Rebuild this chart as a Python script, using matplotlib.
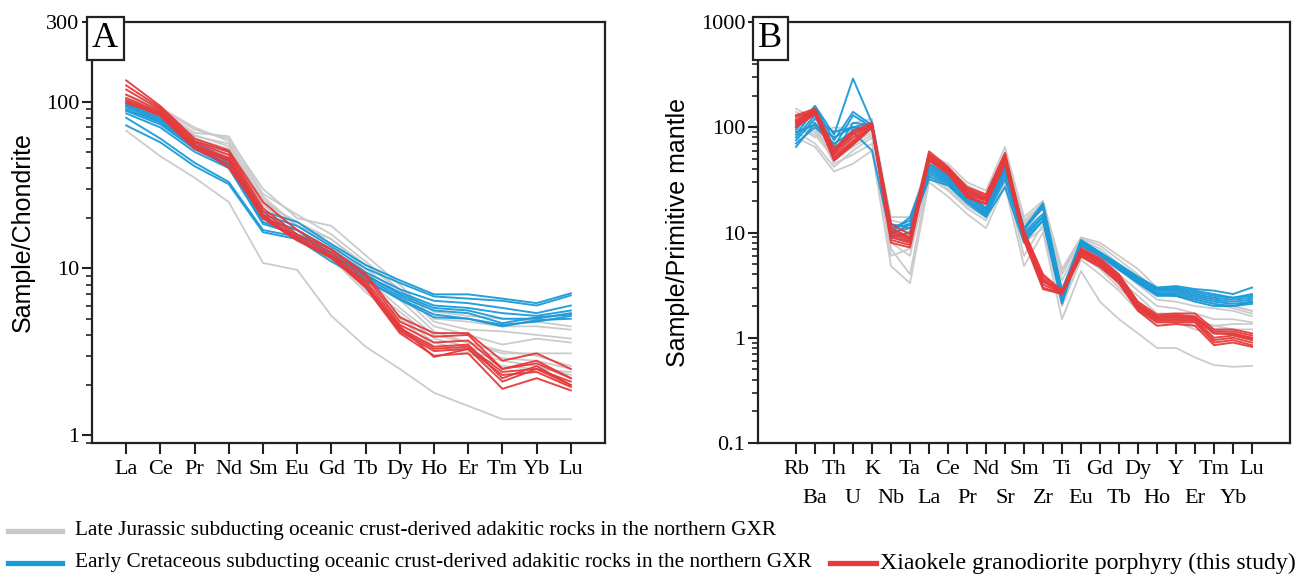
import matplotlib
matplotlib.use('Agg')
import matplotlib.pyplot as plt
import numpy as np
from matplotlib.ticker import FixedLocator, LogLocator, NullFormatter
from matplotlib.lines import Line2D

# ---- data: chondrite-normalised REE (panel A) ----
ree = ['La', 'Ce', 'Pr', 'Nd', 'Sm', 'Eu', 'Gd', 'Tb', 'Dy', 'Ho', 'Er', 'Tm', 'Yb', 'Lu']

ree_jurassic = [
    [67, 47, 35, 25, 10.8, 9.8, 5.2, 3.4, 2.5, 1.8, 1.5, 1.25, 1.25, 1.25],
    [105, 90, 68, 60, 30, 20, 18, 12, 8.0, 5.0, 4.8, 4.5, 4.5, 4.3],
    [100, 88, 65, 62, 28, 21, 16, 11, 7.5, 4.8, 4.3, 4.2, 4.0, 3.8],
    [95, 85, 62, 56, 25, 19, 15, 10, 7.0, 4.5, 4.0, 3.5, 3.8, 3.6],
    [110, 92, 70, 58, 27, 18, 14, 9.5, 6.5, 4.2, 3.6, 3.1, 3.1, 3.1],
    [98, 84, 60, 52, 24, 17, 13, 8.8, 5.8, 4.0, 3.6, 3.2, 3.0, 2.6],
    [92, 80, 58, 50, 22, 16, 12.5, 8.0, 5.5, 3.8, 3.4, 2.9, 2.8, 2.5],
    [88, 78, 55, 48, 21, 15, 12, 7.5, 5.2, 3.6, 3.2, 2.8, 2.6, 2.3],
    [102, 86, 63, 54, 26, 18, 15, 10.5, 7.5, 5.5, 5.2, 5.0, 4.8, 4.5],
    [96, 82, 60, 46, 20, 15, 11.5, 7.2, 5.0, 3.4, 3.1, 2.6, 2.5, 2.4],
]
ree_cretaceous = [
    [97, 80, 57, 45, 22, 19, 14, 10.5, 8.5, 7.0, 7.0, 6.6, 6.2, 7.1],
    [95, 78, 55, 44, 21, 18, 13.5, 10, 8.2, 6.8, 6.6, 6.4, 6.0, 6.9],
    [90, 75, 53, 42, 20, 17, 13, 9.5, 7.5, 6.4, 6.2, 5.8, 5.4, 6.0],
    [88, 73, 52, 41, 19, 16, 12.5, 9.0, 7.2, 6.0, 5.8, 5.4, 5.2, 5.6],
    [93, 76, 54, 43, 20, 17, 12, 9.2, 7.0, 5.8, 5.6, 5.0, 5.0, 5.4],
    [85, 70, 50, 40, 18.5, 16, 12, 8.8, 6.8, 5.6, 5.4, 4.7, 5.1, 5.3],
    [80, 60, 43, 33, 17, 15.5, 11.5, 8.5, 6.6, 5.3, 5.0, 4.5, 4.9, 5.0],
    [72, 57, 41, 32, 16.5, 15, 11, 8.5, 6.5, 5.1, 5.0, 4.6, 4.8, 5.2],
]
ree_xiaokele = [
    [134, 94, 60, 51, 25, 17, 13, 9.3, 5.1, 4.1, 4.1, 2.8, 3.1, 2.5],
    [125, 92, 58, 50, 23, 16, 13, 9.0, 4.8, 3.9, 4.0, 2.5, 2.8, 2.2],
    [118, 90, 57, 48, 22, 15.5, 12.5, 8.5, 4.6, 3.6, 3.7, 2.5, 2.7, 2.2],
    [110, 88, 55, 46, 21, 15, 12, 8.0, 4.4, 3.4, 3.5, 2.2, 2.6, 2.0],
    [105, 86, 54, 45, 20.5, 15, 12, 8.2, 4.3, 3.3, 3.4, 2.4, 2.5, 2.1],
    [102, 85, 53, 44, 20, 14.8, 11.8, 7.8, 4.2, 3.2, 3.3, 2.3, 2.4, 1.95],
    [100, 82, 52, 42, 20, 14.7, 11.6, 7.7, 4.1, 3.0, 3.1, 1.9, 2.2, 1.86],
    [98, 84, 55, 40, 21, 15, 11.5, 7.9, 4.5, 2.95, 3.3, 2.1, 2.5, 2.0],
]

# ---- data: primitive-mantle-normalised trace elements (panel B) ----
trace = ['Rb', 'Ba', 'Th', 'U', 'K', 'Nb', 'Ta', 'La', 'Ce', 'Pr', 'Nd', 'Sr', 'Sm',
         'Zr', 'Ti', 'Eu', 'Gd', 'Tb', 'Dy', 'Ho', 'Y', 'Er', 'Tm', 'Yb', 'Lu']

tr_jurassic = [
    [80, 65, 38, 45, 60, 4.8, 3.3, 30, 22, 15, 11, 28, 4.8, 10, 1.5, 4.3, 2.2, 1.5, 1.1, 0.8, 0.8, 0.65, 0.55, 0.53, 0.54],
    [150, 120, 90, 110, 120, 13, 12, 55, 45, 30, 25, 65, 14, 20, 4.5, 9, 8, 6, 4.5, 3.0, 3.0, 2.5, 2.4, 2.0, 1.8],
    [140, 110, 80, 100, 110, 12, 11, 50, 40, 28, 23, 58, 13, 19, 4, 8.5, 7, 5, 3.8, 2.6, 2.6, 2.3, 2.1, 1.9, 1.7],
    [120, 100, 70, 90, 100, 11, 10, 45, 36, 26, 21, 50, 12, 17, 3.5, 8, 6.5, 4.5, 3.2, 2.3, 2.2, 2.0, 1.9, 1.8, 1.6],
    [110, 95, 60, 80, 95, 10, 9, 42, 33, 24, 19, 45, 11, 15, 3, 7.5, 6, 4, 2.8, 2.0, 1.9, 1.7, 1.5, 1.5, 1.4],
    [100, 90, 55, 70, 90, 9, 8, 40, 30, 22, 17, 40, 10, 14, 2.8, 7, 5.5, 3.5, 2.5, 1.7, 1.7, 1.5, 1.3, 1.35, 1.35],
    [95, 85, 50, 65, 85, 8, 6, 38, 28, 20, 15, 38, 9, 13, 2.5, 6.5, 5, 3.2, 2.2, 1.6, 1.6, 1.4, 1.3, 1.2, 1.2],
    [130, 105, 45, 55, 70, 7, 4, 35, 26, 18, 14, 33, 6, 12, 2.2, 6, 4.5, 3, 2.0, 1.5, 1.5, 1.3, 1.2, 1.1, 1.0],
    [105, 80, 100, 95, 105, 14, 14, 48, 38, 27, 22, 55, 12.5, 18, 4.2, 8.8, 7.5, 5.5, 4, 2.8, 2.8, 2.4, 2.3, 2.0, 1.8],
    [90, 70, 42, 60, 80, 6, 7, 33, 25, 17, 13, 30, 8, 11, 2, 5.5, 4, 2.8, 1.8, 1.4, 1.4, 1.2, 1.1, 1.1, 1.0],
]
tr_cretaceous = [
    [100, 160, 85, 290, 110, 11, 13, 45, 35, 24, 17, 45, 11, 19, 2.8, 8.5, 6.5, 5.0, 3.8, 3.0, 3.1, 2.9, 2.8, 2.6, 3.0],
    [95, 155, 75, 140, 105, 10, 14, 42, 33, 23, 16.5, 42, 10.5, 18, 2.6, 8.2, 6.4, 4.8, 3.7, 2.9, 3.0, 2.8, 2.6, 2.4, 2.5],
    [85, 150, 65, 130, 100, 9.5, 12, 40, 32, 22, 16, 40, 10, 15, 2.5, 8, 6.3, 4.7, 3.6, 2.8, 2.8, 2.6, 2.4, 2.3, 2.4],
    [75, 120, 90, 100, 110, 12, 11, 38, 31, 21, 15.5, 38, 9.5, 14, 2.4, 7.8, 6.2, 4.6, 3.5, 2.7, 2.7, 2.5, 2.3, 2.2, 2.3],
    [65, 110, 60, 95, 100, 9, 10, 36, 30, 20, 15, 35, 9, 14, 2.3, 7.6, 6.1, 4.5, 3.4, 2.6, 2.6, 2.4, 2.2, 2.1, 2.2],
    [70, 100, 70, 90, 60, 9, 10, 34, 29, 20, 14.5, 32, 8.5, 13, 2.2, 7.5, 6.0, 4.5, 3.4, 2.6, 2.5, 2.3, 2.1, 2.0, 2.2],
    [90, 105, 80, 100, 95, 10, 11, 32, 28, 19, 14, 27, 8, 13, 2.1, 7.5, 6.0, 4.4, 3.3, 2.5, 2.5, 2.2, 2.0, 2.0, 2.1],
    [80, 130, 55, 110, 105, 11, 12, 44, 34, 23, 17, 44, 11, 17, 2.7, 8.3, 6.4, 4.8, 3.7, 2.9, 2.9, 2.7, 2.5, 2.4, 2.6],
]
tr_xiaokele = [
    [130, 150, 63, 92, 110, 12, 9.6, 59, 42, 27, 23, 57, 10.3, 4.0, 2.8, 7.1, 5.7, 4.0, 2.2, 1.66, 1.7, 1.7, 1.2, 1.2, 1.1],
    [125, 145, 58, 85, 108, 11, 9, 56, 41, 26, 22, 55, 10, 3.8, 2.75, 6.9, 5.5, 3.9, 2.1, 1.6, 1.65, 1.6, 1.15, 1.15, 1.05],
    [118, 142, 55, 80, 106, 10, 8.5, 54, 40, 25, 21, 52, 9.6, 3.6, 2.7, 6.7, 5.3, 3.7, 2.0, 1.55, 1.6, 1.55, 1.1, 1.1, 1.0],
    [112, 140, 52, 75, 104, 9.5, 8.2, 52, 39, 24, 20.5, 50, 9.3, 3.4, 2.7, 6.5, 5.1, 3.6, 1.95, 1.5, 1.5, 1.5, 1.0, 1.05, 0.95],
    [108, 138, 50, 72, 102, 9, 8, 50, 38, 23, 20, 48, 9, 3.2, 2.65, 6.3, 5.0, 3.5, 1.9, 1.45, 1.45, 1.45, 0.95, 1.0, 0.9],
    [104, 135, 49, 70, 100, 8.5, 7.6, 49, 37, 22, 19, 46, 8.7, 3.0, 2.6, 6.1, 4.8, 3.4, 1.85, 1.4, 1.4, 1.4, 0.9, 0.95, 0.85],
    [100, 133, 48, 68, 99, 8, 7.2, 48, 36, 21.5, 18.5, 45, 8.4, 2.9, 2.6, 5.9, 4.7, 3.3, 1.8, 1.3, 1.35, 1.3, 0.85, 0.9, 0.82],
    [115, 148, 60, 88, 105, 10.5, 8.8, 53, 40, 25, 21, 53, 9.8, 3.5, 2.7, 6.8, 5.4, 3.7, 2.05, 1.55, 1.55, 1.55, 1.1, 1.08, 0.98],
]

legend_labels = ['Late Jurassic subducting oceanic crust-derived adakitic rocks in the northern GXR',
                 'Early Cretaceous subducting oceanic crust-derived adakitic rocks in the northern GXR',
                 'Xiaokele granodiorite porphyry (this study)']

GRAY = '#c9c9c9'
BLUE = '#1b9ad8'
RED = '#e63a3c'
SERIF = 'Liberation Serif'
SANS = 'Liberation Sans'

fig = plt.figure(figsize=(13.15, 5.77), dpi=100)
W, H = 1315., 577.
axA = fig.add_axes([92/W, 1-443/H, (605-92)/W, (443-22)/H])
axB = fig.add_axes([758/W, 1-443/H, (1290-758)/W, (443-22)/H])


def style(ax, names, ylim, yticks, ylab, letter, xlim, two_rows=False):
    ax.set_yscale('log')
    ax.set_ylim(*ylim)
    ax.set_xlim(*xlim)
    x = np.arange(len(names))
    if two_rows:
        # even elements on the first row (major ticks), odd ones on the second (minor ticks)
        ax.set_xticks(x[::2], names[::2])
        ax.set_xticks(x[1::2], names[1::2], minor=True)
        ax.tick_params(axis='x', which='minor', direction='out', length=8, width=1.5,
                       color='#222222', pad=25, labelsize=16)
        for t in ax.get_xticklabels(minor=True):
            t.set_fontfamily(SERIF)
    else:
        ax.set_xticks(x, names)
    for t in ax.get_xticklabels():
        t.set_fontfamily(SERIF)
        t.set_fontsize(16)
    ax.yaxis.set_major_locator(FixedLocator(yticks))
    ax.set_yticklabels([('%g' % t) for t in yticks], fontfamily=SERIF, fontsize=16)
    ax.yaxis.set_minor_locator(LogLocator(base=10, subs=np.arange(2, 10), numticks=20))
    ax.yaxis.set_minor_formatter(NullFormatter())
    ax.tick_params(axis='x', which='major', direction='out', length=8, width=1.5, color='#222222', pad=4)
    ax.tick_params(axis='y', which='major', direction='out', length=7, width=1.5, color='#222222', pad=2)
    ax.tick_params(axis='y', which='minor', direction='out', length=4, width=1.2, color='#222222')
    for s in ax.spines.values():
        s.set_linewidth(1.6)
        s.set_color('#222222')
    ax.set_ylabel(ylab, fontfamily=SANS, fontsize=18, labelpad=8)
    ax.text(0, 1, letter, transform=ax.transAxes, ha='left', va='top', fontfamily=SERIF,
            fontsize=26, bbox=dict(boxstyle='square,pad=0.15', fc='white', ec='#222222', lw=1.6),
            zorder=10)


def draw(ax, groups, names):
    x = np.arange(len(names))
    for data, col, lw, z in groups:
        for row in data:
            ax.plot(x, row, color=col, lw=lw, zorder=z, alpha=0.95)


draw(axA, [(ree_jurassic, GRAY, 1.3, 2), (ree_cretaceous, BLUE, 1.4, 3), (ree_xiaokele, RED, 1.4, 4)], ree)
draw(axB, [(tr_jurassic, GRAY, 1.3, 2), (tr_cretaceous, BLUE, 1.4, 3), (tr_xiaokele, RED, 1.4, 4)], trace)

style(axA, ree, (0.9, 300), [1, 10, 100, 300], 'Sample/Chondrite', 'A', (-1, 14))
style(axB, trace, (0.1, 1000), [0.1, 1, 10, 100, 1000], 'Sample/Primitive mantle', 'B', (-2, 26), two_rows=True)

# legend drawn by hand below the panels
for (x0, x1, y, col), lab, tx, fs in zip([(8, 62, 531, GRAY), (8, 62, 563, BLUE), (830, 876, 563, RED)],
                                         legend_labels, [75, 75, 880], [15.3, 15.3, 17.2]):
    fig.add_artist(Line2D([x0/W, x1/W], [1-y/H, 1-y/H], color=col, lw=3.8))
    fig.text(tx/W, 1-y/H, lab, ha='left', va='center', fontfamily=SERIF, fontsize=fs)

fig.savefig('out.png', dpi=100, facecolor='white')
